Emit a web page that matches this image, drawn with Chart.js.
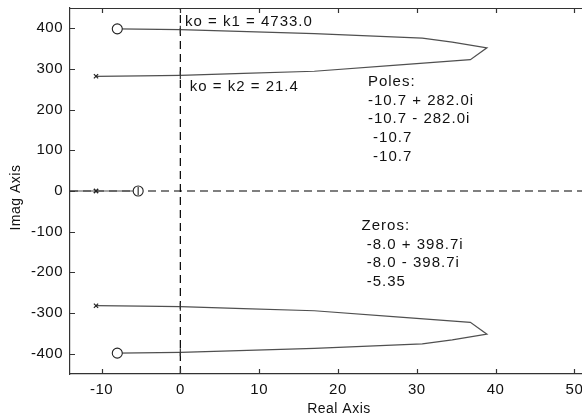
<!DOCTYPE html>
<html>
<head>
<meta charset="utf-8">
<script src="https://cdn.jsdelivr.net/npm/chart.js@4.4.0/dist/chart.umd.min.js"></script>
<style>
  html, body { margin: 0; padding: 0; background: #fff; overflow: hidden; }
  /* matlab axes box runs past the right edge of the figure crop */
  #wrap { width: 614px; height: 418px; }
</style>
</head>
<body>
<div id="wrap"><canvas id="rlocus"></canvas></div>
<script>
// root locus branches (real part, imag part)
var upperRe = [-10.7, -5, 0, 8, 17, 27, 36.8, 38.9, 34.5, 30.7, 17, 0, -8];
var upperIm = [282, 283.2, 284.5, 289, 294.5, 309, 323, 352, 366, 376, 387, 396.8, 398.7];
var lowerRe = [-10.7, -5, 0, 8, 17, 27, 36.8, 38.9, 34.5, 30.7, 17, 0, -8];
var lowerIm = [-282, -283.2, -284.5, -289, -294.5, -309, -323, -352, -366, -376, -387, -396.8, -398.7];
var realRe  = [-14, -10.7, -5.35];
var realIm  = [0, 0, 0];

var polesRe = [-10.7, -10.7, -10.7, -10.7];
var polesIm = [282, -282, 0, 0];
var zerosRe = [-8, -8, -5.35];
var zerosIm = [398.7, -398.7, 0];
// closed loop poles for ko = k1 / k2
var gainRe = [0, 0, 0, 0, -5.35];
var gainIm = [396.8, -396.8, 284.5, -284.5, 0];

var xLim = [-14, 54.25];
var yLim = [-450, 450];
var xTicks = [-10, 0, 10, 20, 30, 40, 50];
var yTicks = [-400, -300, -200, -100, 0, 100, 200, 300, 400];

var notes = [
  { text: 'ko = k1 = 4733.0', x: 0.6, y: 415 },
  { text: 'ko = k2 = 21.4', x: 1.2, y: 255 },
  { text: 'Poles:', x: 23.8, y: 268 },
  { text: '-10.7 + 282.0i', x: 23.8, y: 222 },
  { text: '-10.7 - 282.0i', x: 23.8, y: 178 },
  { text: ' -10.7', x: 23.8, y: 131 },
  { text: ' -10.7', x: 23.8, y: 85 },
  { text: 'Zeros:', x: 23.0, y: -86 },
  { text: ' -8.0 + 398.7i', x: 23.0, y: -132 },
  { text: ' -8.0 - 398.7i', x: 23.0, y: -177 },
  { text: ' -5.35', x: 23.0, y: -223 }
];

var lineCol = '#505050',
    axisCol = '#333',
    textCol = '#111',
    fontFam = '"Liberation Sans", Arial, sans-serif';

function pts(xs, ys) {
  return xs.map(function (v, i) { return { x: v, y: ys[i] }; });
}

function spacing(chart) {
  chart.ctx.letterSpacing = '0.5px';
}

var extras = {
  id: 'extras',
  beforeUpdate: spacing,
  beforeDraw: spacing,
  afterDraw: function (chart) {
    var ctx = chart.ctx, a = chart.chartArea,
        sx = chart.scales.x, sy = chart.scales.y;
    ctx.save();
    ctx.strokeStyle = axisCol;
    ctx.lineWidth = 1.2;
    ctx.beginPath();
    ctx.moveTo(a.left, a.top + 0.5);
    ctx.lineTo(a.right, a.top + 0.5);
    // inward ticks, matlab style
    sx.ticks.forEach(function (t) {
      var px = Math.round(sx.getPixelForValue(t.value)) + 0.5;
      ctx.moveTo(px, a.bottom); ctx.lineTo(px, a.bottom - 5);
      ctx.moveTo(px, a.top); ctx.lineTo(px, a.top + 5);
    });
    sy.ticks.forEach(function (t) {
      var py = Math.round(sy.getPixelForValue(t.value)) + 0.5;
      ctx.moveTo(a.left, py); ctx.lineTo(a.left + 5, py);
    });
    ctx.stroke();

    ctx.fillStyle = textCol;
    ctx.font = '15px ' + fontFam;
    ctx.letterSpacing = '1px';
    ctx.textBaseline = 'middle';
    ctx.textAlign = 'left';
    notes.forEach(function (n) {
      ctx.fillText(n.text, sx.getPixelForValue(n.x), sy.getPixelForValue(n.y));
    });
    ctx.restore();
  }
};

var curve = {
  type: 'scatter', showLine: true, borderColor: lineCol, borderWidth: 1.2,
  pointRadius: 0, pointHoverRadius: 0
};

new Chart(document.getElementById('rlocus'), {
  type: 'scatter',
  data: {
    datasets: [
      {
        data: pts(gainRe, gainIm), pointStyle: 'line', rotation: 90,
        pointRadius: 4, borderColor: '#333', borderWidth: 1.2
      },
      {
        data: pts(polesRe, polesIm), pointStyle: 'crossRot',
        pointRadius: 3, borderColor: '#222', borderWidth: 1.2
      },
      {
        data: pts(zerosRe, zerosIm), pointStyle: 'circle',
        pointRadius: 5, borderColor: '#222', borderWidth: 1.1,
        backgroundColor: '#fff'
      },
      Object.assign({ data: pts(upperRe, upperIm) }, curve),
      Object.assign({ data: pts(lowerRe, lowerIm) }, curve),
      Object.assign({ data: pts(realRe, realIm) }, curve),
      {
        data: pts(xLim, [0, 0]), showLine: true, borderColor: '#000',
        borderWidth: 1.2, borderDash: [8, 5], pointRadius: 0
      },
      {
        data: pts([0, 0], yLim), showLine: true, borderColor: '#000',
        borderWidth: 1.2, borderDash: [8, 5], pointRadius: 0
      }
    ]
  },
  options: {
    responsive: true,
    maintainAspectRatio: false,
    animation: false,
    events: [],
    layout: { padding: { top: 8, right: 0, left: 0, bottom: 0 } },
    plugins: { legend: { display: false }, tooltip: { enabled: false } },
    scales: {
      x: {
        type: 'linear', min: xLim[0], max: xLim[1],
        afterBuildTicks: function (s) { s.ticks = xTicks.map(function (v) { return { value: v }; }); },
        afterFit: function (s) { s.height = 44; s.paddingRight = 0; s.paddingLeft = 0; },
        grid: { display: true, drawOnChartArea: false, drawTicks: false },
        border: { display: true, color: axisCol, width: 1.2 },
        ticks: { padding: 7, color: textCol, font: { family: fontFam, size: 15 } },
        title: {
          display: true, text: 'Real Axis', color: textCol, padding: { top: 0, bottom: 0 },
          font: { family: fontFam, size: 14 }
        }
      },
      y: {
        type: 'linear', min: yLim[0], max: yLim[1],
        afterBuildTicks: function (s) { s.ticks = yTicks.map(function (v) { return { value: v }; }); },
        afterFit: function (s) { s.width = 70; s.paddingTop = 0; s.paddingBottom = 0; },
        grid: { display: true, drawOnChartArea: false, drawTicks: false },
        border: { display: true, color: axisCol, width: 1.2 },
        ticks: { padding: 7, color: textCol, font: { family: fontFam, size: 15 } },
        title: {
          display: true, text: 'Imag Axis   ', color: textCol, padding: { top: 8, bottom: 0 },
          font: { family: fontFam, size: 14 }
        }
      }
    }
  },
  plugins: [extras]
});
</script>
</body>
</html>
